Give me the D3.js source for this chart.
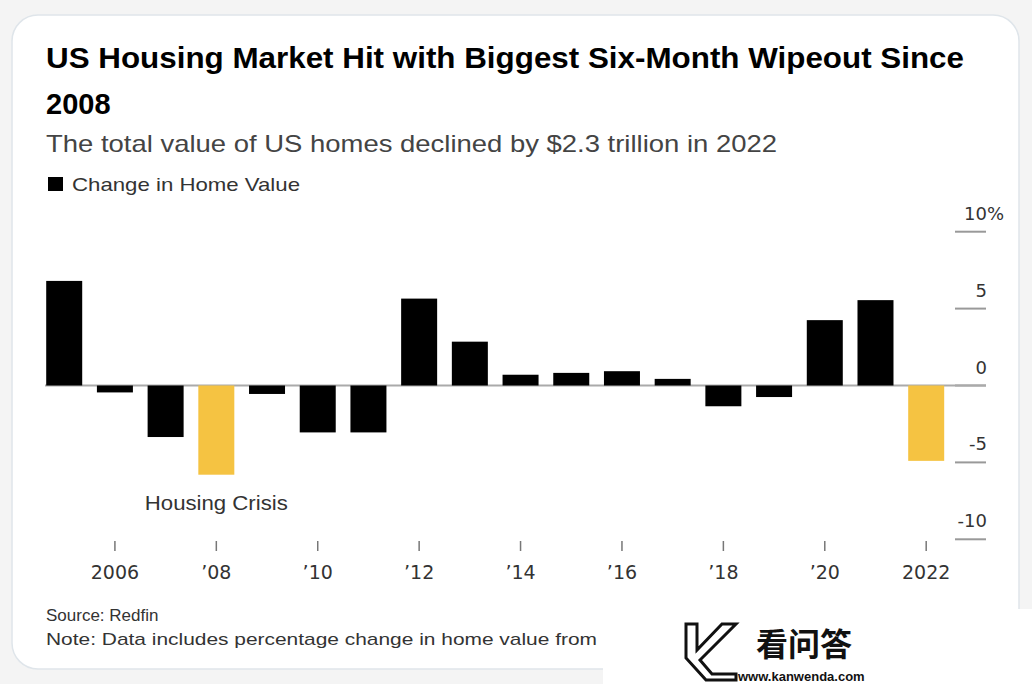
<!DOCTYPE html>
<html lang="en">
<head>
<meta charset="UTF-8">
<title>US Housing Market</title>
<style>
  body { margin: 0; background: #f4f4f4; }
  svg { display: block; font-family: "Liberation Sans", Arial, sans-serif; }
</style>
</head>
<body>
<svg width="1032" height="684"></svg>
<script src="https://d3js.org/d3.v7.min.js"></script>
<script>
// data
const years = [2005, 2006, 2007, 2008, 2009, 2010, 2011, 2012, 2013, 2014, 2015, 2016, 2017, 2018, 2019, 2020, 2021, 2022]
const changes = [6.8, -0.45, -3.35, -5.8, -0.55, -3.05, -3.05, 5.65, 2.85, 0.7, 0.82, 0.93, 0.43, -1.35, -0.75, 4.25, 5.55, -4.9]
const highlighted = [2008, 2022]
const xTickYears = [2006, 2008, 2010, 2012, 2014, 2016, 2018, 2020, 2022]
const xTickLabels = ['2006', '\u201908', '\u201910', '\u201912', '\u201914', '\u201916', '\u201918', '\u201920', '2022']
const yTicks = [10, 5, 0, -5, -10]
const yTickLabels = ['10', '5', '0', '-5', '-10']

const svg = d3.select('svg')

// card
svg.append('rect')
    .attr('x', 12).attr('y', 15)
    .attr('width', 1007).attr('height', 654)
    .attr('rx', 26)
    .attr('fill', '#fff')
    .attr('stroke', '#dfe5ea')
    .attr('stroke-width', 1.5)

// titles
const title = svg.append('g').attr('fill', '#000').attr('font-weight', 'bold').attr('font-size', 29)
title.append('text').attr('x', 46).attr('y', 68).text('US Housing Market Hit with Biggest Six-Month Wipeout Since')
    .attr('textLength', 918).attr('lengthAdjust', 'spacingAndGlyphs')
title.append('text').attr('x', 46).attr('y', 114).text('2008')

svg.append('text').attr('x', 46).attr('y', 152)
    .attr('font-size', 24).attr('fill', '#444')
    .attr('textLength', 731).attr('lengthAdjust', 'spacingAndGlyphs')
    .text('The total value of US homes declined by $2.3 trillion in 2022')

// legend
svg.append('rect').attr('x', 48).attr('y', 177).attr('width', 15).attr('height', 14).attr('fill', '#000')
svg.append('text').attr('x', 72).attr('y', 191)
    .attr('font-size', 19).attr('fill', '#333')
    .attr('textLength', 228).attr('lengthAdjust', 'spacingAndGlyphs')
    .text('Change in Home Value')

// scales
const x = d3.scaleBand()
    .domain(years)
    .range([38.6, 951.8])
    .paddingInner(0.29)
    .paddingOuter(0.15)

const y = d3.scaleLinear()
    .domain([-10, 10])
    .range([539.3, 231.7])

// y axis on the right: short gridline stubs
const yAxis = svg.append('g')
yAxis.selectAll('line')
    .data(yTicks).enter()
    .append('line')
        .attr('x1', 955).attr('x2', 986)
        .attr('y1', d => y(d)).attr('y2', d => y(d))
        .attr('stroke', '#999').attr('stroke-width', 2)
yAxis.selectAll('text')
    .data(yTicks).enter()
    .append('text')
        .attr('x', 987)
        .attr('y', d => y(d) - 12)
        .attr('text-anchor', 'end')
        .attr('font-family', '"DejaVu Sans", sans-serif')
        .attr('font-size', 18)
        .attr('fill', '#333')
        .text((d, i) => yTickLabels[i])
yAxis.append('text')
    .attr('x', 987).attr('y', y(10) - 12)
    .attr('font-family', '"DejaVu Sans", sans-serif')
    .attr('font-size', 18).attr('fill', '#333')
    .text('%')

// zero line
svg.append('line')
    .attr('x1', 45).attr('x2', 986)
    .attr('y1', y(0)).attr('y2', y(0))
    .attr('stroke', '#aaa').attr('stroke-width', 2)

// bars
svg.append('g').selectAll('rect')
    .data(years.map((yr, i) => ({ year: yr, value: changes[i] })))
    .enter().append('rect')
        .attr('x', d => x(d.year))
        .attr('width', x.bandwidth())
        .attr('y', d => y(Math.max(0, d.value)))
        .attr('height', d => Math.abs(y(d.value) - y(0)))
        .attr('fill', d => highlighted.includes(d.year) ? '#f5c342' : '#000')

// x axis
const xAxis = svg.append('g')
xAxis.selectAll('line')
    .data(xTickYears).enter()
    .append('line')
        .attr('x1', d => x(d) + x.bandwidth() / 2)
        .attr('x2', d => x(d) + x.bandwidth() / 2)
        .attr('y1', 541).attr('y2', 551)
        .attr('stroke', '#777').attr('stroke-width', 1.5)
xAxis.selectAll('text')
    .data(xTickYears).enter()
    .append('text')
        .attr('x', d => x(d) + x.bandwidth() / 2)
        .attr('y', 579)
        .attr('text-anchor', 'middle')
        .attr('font-family', '"DejaVu Sans", sans-serif')
        .attr('font-size', 19)
        .attr('fill', '#333')
        .text((d, i) => xTickLabels[i])

// annotation
svg.append('text')
    .attr('x', x(2008) + x.bandwidth() / 2)
    .attr('y', 510)
    .attr('text-anchor', 'middle')
    .attr('font-size', 20)
    .attr('fill', '#333')
    .attr('textLength', 143).attr('lengthAdjust', 'spacingAndGlyphs')
    .text('Housing Crisis')

// footer
svg.append('text').attr('x', 46).attr('y', 621).attr('font-size', 17).attr('fill', '#333').text('Source: Redfin')
svg.append('text').attr('x', 46).attr('y', 645).attr('font-size', 17).attr('fill', '#333')
    .attr('textLength', 551).attr('lengthAdjust', 'spacingAndGlyphs')
    .text('Note: Data includes percentage change in home value from')

// watermark box
svg.append('rect').attr('x', 603).attr('y', 609).attr('width', 429).attr('height', 75).attr('fill', '#fff')
const wm = svg.append('g')
wm.append('path')
    .attr('d', 'M686,624 L697,624 L697,650 L722,624 L736,624 L700,660 L712,674 L736,674 L736,680 L706,680 L686,658 Z')
    .attr('fill', 'none').attr('stroke', '#111').attr('stroke-width', 3)
wm.append('text').attr('x', 756).attr('y', 656)
    .attr('font-family', '"Noto Sans CJK SC", sans-serif')
    .attr('font-weight', 'bold').attr('font-size', 32).attr('fill', '#111')
    .text('看问答')
wm.append('text').attr('x', 738).attr('y', 681)
    .attr('font-weight', 'bold').attr('font-size', 13).attr('fill', '#111')
    .text('www.kanwenda.com')
</script>
</body>
</html>
